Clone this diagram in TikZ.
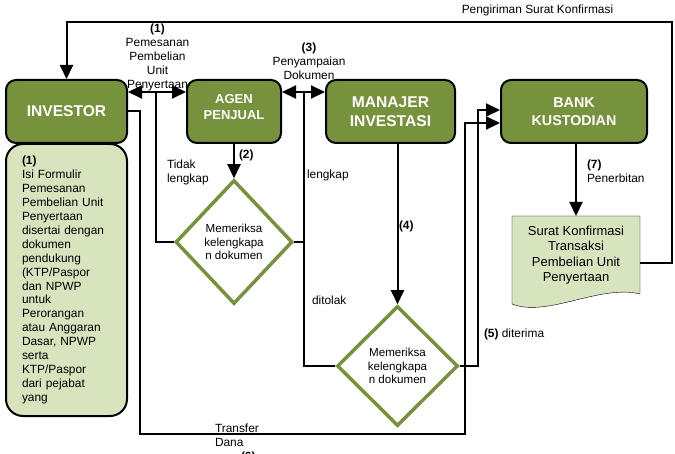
\documentclass[tikz,border=0pt]{standalone}
\usepackage{fontspec}
\setmainfont{Liberation Sans}
\usepackage{tikz}
\usetikzlibrary{arrows.meta, positioning, calc, shapes.geometric, backgrounds}
\definecolor{olivebox}{RGB}{118, 146, 60}
\definecolor{olivelight}{RGB}{215, 228, 189}

\begin{document}
\begin{tikzpicture}[x=1pt, y=-1pt, >={Triangle[length=14pt, width=13pt]}, line width=2pt,
  every node/.style={font=\fontsize{11.9}{14}\selectfont, inner sep=1pt},
  mainbox/.style={draw, fill=olivebox, rounded corners=10pt, text=white, align=center, minimum height=63pt},
  checkbox/.style={diamond, draw=olivebox, line width=3.5pt, fill=white, align=center, font=\fontsize{11.6}{13.5}\selectfont},
  lbl/.style={align=left, anchor=west}]
  \useasboundingbox (0,0) rectangle (675,454);

  \node[draw, fill=olivelight, rounded corners=17pt, minimum width=121pt, minimum height=272pt, text width=89pt, align=left, font=\fontsize{11.9}{13.9}\selectfont] (note) at (66.5,280) {\textbf{(1)}\\Isi Formulir\\Pemesanan\\Pembelian Unit\\Penyertaan\\disertai dengan\\dokumen\\pendukung\\(KTP/Paspor\\dan NPWP\\untuk\\Perorangan\\atau Anggaran\\Dasar, NPWP\\serta\\KTP/Paspor\\dari pejabat\\yang};
  \node[mainbox, minimum width=121pt, font=\bfseries\fontsize{15.6}{18}\selectfont] (investor) at (66.5,111.5) {INVESTOR};
  \node[mainbox, minimum width=94pt, font=\bfseries\fontsize{13}{16}\selectfont] (agen) at (234,111.5) {AGEN\\PENJUAL\vphantom{g}\\[-6pt]};
  \node[mainbox, minimum width=129pt, font=\bfseries\fontsize{15.6}{19}\selectfont] (manajer) at (390.5,111.5) {MANAJER\\INVESTASI};
  \node[mainbox, minimum width=146pt, font=\bfseries\fontsize{14.3}{18}\selectfont] (bank) at (574,111.5) {BANK\\KUSTODIAN};
  \node[checkbox, minimum width=117pt, minimum height=124pt] (cek1) at (234,242) {Memeriksa\\kelengkapa\\n dokumen};
  \node[checkbox, minimum width=121pt, minimum height=120pt] (cek2) at (397.5,366) {Memeriksa\\kelengkapa\\n dokumen};
  \node[minimum width=126pt, minimum height=76pt, align=center, font=\fontsize{13}{15.5}\selectfont] (surat) at (576,255) {Surat Konfirmasi\\Transaksi\\Pembelian Unit\\Penyertaan};
  \begin{scope}[on background layer]
    \draw[fill=olivelight] (surat.south east) -- (surat.north east) -- (surat.north west) -- ($(surat.south west)+(0,10)$) .. controls +(35,14) and +(-40,-10) .. (surat.south east) -- cycle;
  \end{scope}

  \coordinate (kiri) at (156,92);
  \coordinate (tengah) at (304,92);
  \coordinate (terima) at (478,110);
  \coordinate (dana1) at (140,434);
  \coordinate (dana2) at (465,123);
  \coordinate (kirim) at (672,22);

  \draw[<->] ([yshift=19.5pt]investor.east) -- ([yshift=19.5pt]agen.west);
  \draw[<->] ([yshift=19.5pt]agen.east) -- ([yshift=19.5pt]manajer.west);
  \draw (cek1.west) -| (kiri);
  \draw (cek1.east) -- (cek1.east -| tengah);
  \draw (cek2.west) -| (tengah);
  \draw[->] (agen.south) -- (cek1.north);
  \draw[->] (manajer.south -| cek2.north) -- (cek2.north);
  \draw[->] (cek2.east) -| (terima) -- (terima -| bank.west);
  \draw[->] (investor.east) -| (dana1) -| (dana2) -- (dana2 -| bank.west);
  \draw[->] (bank.south -| surat.north) -- (surat.north);
  \draw[->] ([yshift=-8pt]surat.east) -| (kirim) -| (investor.north);

  \node[align=center] (pesan) at (157.5,57) {\textbf{(1)}\\Pemesanan\\Pembelian\\Unit\\Penyertaan};
  \node[align=center] (dok) at (309,61.5) {\textbf{(3)}\\Penyampaian\\Dokumen};
  \node[lbl] (tidak) at (165,172.5) {Tidak\\lengkap};
  \node[lbl] (lengkap) at (305,175) {lengkap};
  \node[lbl] (tolak) at (310,300) {ditolak};
  \node[lbl] (n2) at (237,155) {\textbf{(2)}};
  \node[lbl] (n4) at (397,226) {\textbf{(4)}};
  \node[lbl] (terima5) at (482,334) {\textbf{(5)} diterima};
  \node[lbl] (terbit) at (585,171.5) {\textbf{(7)}\\Penerbitan};
  \node[lbl] (transfer) at (213,443) {Transfer\\Dana\\\hspace*{26pt}\textbf{(6)}};
  \node (kirimlbl) at (537.5,10) {Pengiriman Surat Konfirmasi};
\end{tikzpicture}
\end{document}
